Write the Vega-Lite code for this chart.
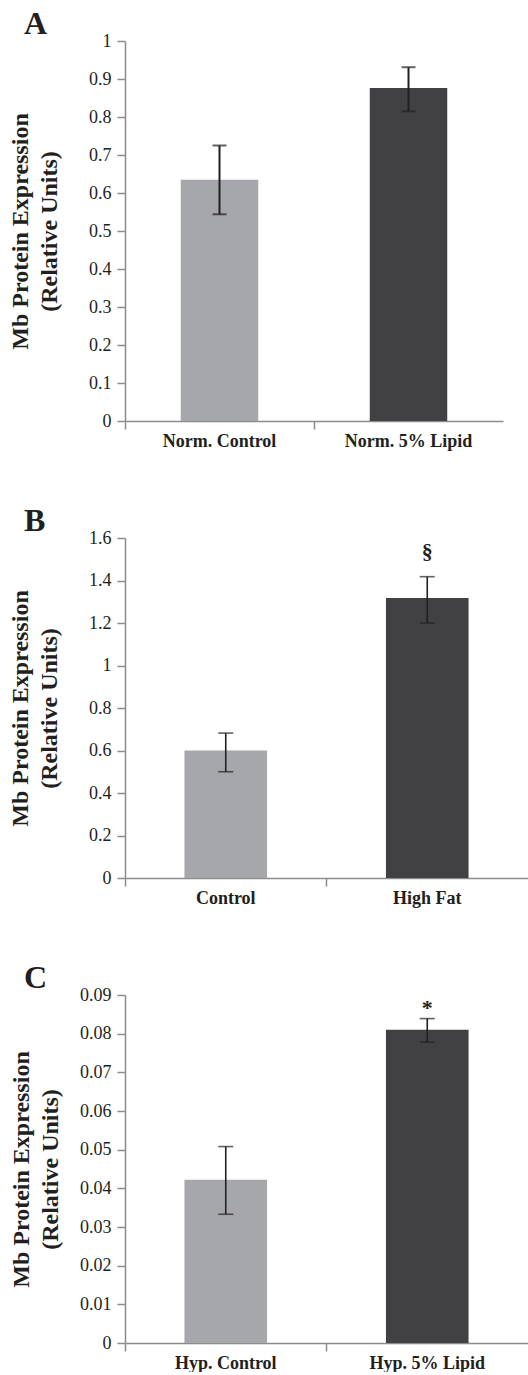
{
  "$schema": "https://vega.github.io/schema/vega-lite/v6.json",
  "padding": {"left": 8, "top": 8, "right": 0, "bottom": 0},
  "bounds": "flush",
  "spacing": 117,
  "config": {
    "font": "Liberation Serif",
    "view": {"stroke": null},
    "axis": {
      "grid": false,
      "domainColor": "#8c8c8c",
      "tickColor": "#8c8c8c",
      "domainWidth": 1.5,
      "tickWidth": 1.5,
      "tickSize": 8,
      "labelColor": "#231f20",
      "titleColor": "#231f20",
      "labelOverlap": false
    },
    "axisX": {"labelFontSize": 18, "labelFontWeight": "bold", "labelPadding": 3, "labelAngle": 0},
    "axisY": {"labelFontSize": 18, "labelPadding": 6, "titleFontSize": 24, "titleFontWeight": "bold", "titleLineHeight": 29, "tickCount": 30},
    "title": {"fontSize": 32, "fontWeight": "bold", "anchor": "start", "frame": "group", "dx": -101, "offset": -9, "color": "#231f20"}
  },
  "vconcat": [
    {
      "title": "A",
      "width": 378,
      "height": 380,
      "data": {"values": [
        {"group": "Norm. Control", "kind": "Control", "mean": 0.635, "lo": 0.544, "hi": 0.725, "sig": ""},
        {"group": "Norm. 5% Lipid", "kind": "Treatment", "mean": 0.876, "lo": 0.815, "hi": 0.931, "sig": ""}
      ]},
      "encoding": {
        "x": {"field": "group", "type": "nominal", "sort": null, "scale": {"paddingInner": 0, "paddingOuter": 0}, "axis": {"title": null, "bandPosition": 0}}
      },
      "layer": [
        {
          "mark": {"type": "bar", "width": {"band": 0.41}},
          "encoding": {
            "y": {"field": "mean", "type": "quantitative", "scale": {"domain": [0, 1], "nice": false}, "axis": {"values": [0, 0.1, 0.2, 0.3, 0.4, 0.5, 0.6, 0.7, 0.8, 0.9, 1], "tickCount": 30, "format": "~g", "labelFontSize": 18, "labelFont": "Liberation Serif", "title": ["Mb Protein Expression", "(Relative Units)"], "titlePadding": 27}},
            "color": {"field": "kind", "type": "nominal", "scale": {"domain": ["Control", "Treatment"], "range": ["#a6a7aa", "#414143"]}, "legend": null}
          }
        },
        {"mark": {"type": "rule", "color": "#231f20", "strokeWidth": 2}, "encoding": {"y": {"field": "lo", "type": "quantitative"}, "y2": {"field": "hi"}}},
        {"mark": {"type": "tick", "color": "#231f20", "size": 14, "thickness": 2}, "encoding": {"y": {"field": "lo", "type": "quantitative"}}},
        {"mark": {"type": "tick", "color": "#231f20", "size": 14, "thickness": 2}, "encoding": {"y": {"field": "hi", "type": "quantitative"}}}
      ]
    },
    {
      "title": "B",
      "width": 403,
      "height": 340,
      "data": {"values": [
        {"group": "Control", "kind": "Control", "mean": 0.6, "lo": 0.5, "hi": 0.682, "sig": ""},
        {"group": "High Fat", "kind": "Treatment", "mean": 1.318, "lo": 1.2, "hi": 1.418, "sig": "§"}
      ]},
      "encoding": {
        "x": {"field": "group", "type": "nominal", "sort": null, "scale": {"paddingInner": 0, "paddingOuter": 0}, "axis": {"title": null, "bandPosition": 0}}
      },
      "layer": [
        {
          "mark": {"type": "bar", "width": {"band": 0.41}},
          "encoding": {
            "y": {"field": "mean", "type": "quantitative", "scale": {"domain": [0, 1.6], "nice": false}, "axis": {"values": [0, 0.2, 0.4, 0.6, 0.8, 1, 1.2, 1.4, 1.6], "tickCount": 30, "format": "~g", "labelFontSize": 18, "labelFont": "Liberation Serif", "title": ["Mb Protein Expression", "(Relative Units)"], "titlePadding": 27}},
            "color": {"field": "kind", "type": "nominal", "scale": {"domain": ["Control", "Treatment"], "range": ["#a6a7aa", "#414143"]}, "legend": null}
          }
        },
        {"mark": {"type": "rule", "color": "#231f20", "strokeWidth": 1.6}, "encoding": {"y": {"field": "lo", "type": "quantitative"}, "y2": {"field": "hi"}}},
        {"mark": {"type": "tick", "color": "#231f20", "size": 15, "thickness": 1.6}, "encoding": {"y": {"field": "lo", "type": "quantitative"}}},
        {"mark": {"type": "tick", "color": "#231f20", "size": 15, "thickness": 1.6}, "encoding": {"y": {"field": "hi", "type": "quantitative"}}},
        {"mark": {"type": "text", "fontSize": 22, "fontWeight": "bold", "color": "#231f20", "baseline": "alphabetic", "dy": -18}, "encoding": {"y": {"field": "hi", "type": "quantitative"}, "text": {"field": "sig"}}}
      ]
    },
    {
      "title": "C",
      "width": 403,
      "height": 348,
      "data": {"values": [
        {"group": "Hyp. Control", "kind": "Control", "mean": 0.0422, "lo": 0.0333, "hi": 0.0508, "sig": ""},
        {"group": "Hyp. 5% Lipid", "kind": "Treatment", "mean": 0.081, "lo": 0.0778, "hi": 0.0839, "sig": "*"}
      ]},
      "encoding": {
        "x": {"field": "group", "type": "nominal", "sort": null, "scale": {"paddingInner": 0, "paddingOuter": 0}, "axis": {"title": null, "bandPosition": 0}}
      },
      "layer": [
        {
          "mark": {"type": "bar", "width": {"band": 0.41}},
          "encoding": {
            "y": {"field": "mean", "type": "quantitative", "scale": {"domain": [0, 0.09], "nice": false}, "axis": {"values": [0, 0.01, 0.02, 0.03, 0.04, 0.05, 0.06, 0.07, 0.08, 0.09], "tickCount": 30, "format": "~g", "labelFontSize": 18, "labelFont": "Liberation Serif", "title": ["Mb Protein Expression", "(Relative Units)"], "titlePadding": 17}},
            "color": {"field": "kind", "type": "nominal", "scale": {"domain": ["Control", "Treatment"], "range": ["#a6a7aa", "#414143"]}, "legend": null}
          }
        },
        {"mark": {"type": "rule", "color": "#231f20", "strokeWidth": 1.6}, "encoding": {"y": {"field": "lo", "type": "quantitative"}, "y2": {"field": "hi"}}},
        {"mark": {"type": "tick", "color": "#231f20", "size": 15, "thickness": 1.6}, "encoding": {"y": {"field": "lo", "type": "quantitative"}}},
        {"mark": {"type": "tick", "color": "#231f20", "size": 15, "thickness": 1.6}, "encoding": {"y": {"field": "hi", "type": "quantitative"}}},
        {"mark": {"type": "text", "fontSize": 22, "fontWeight": "bold", "color": "#231f20", "baseline": "alphabetic", "dy": -4}, "encoding": {"y": {"field": "hi", "type": "quantitative"}, "text": {"field": "sig"}}}
      ]
    }
  ]
}
